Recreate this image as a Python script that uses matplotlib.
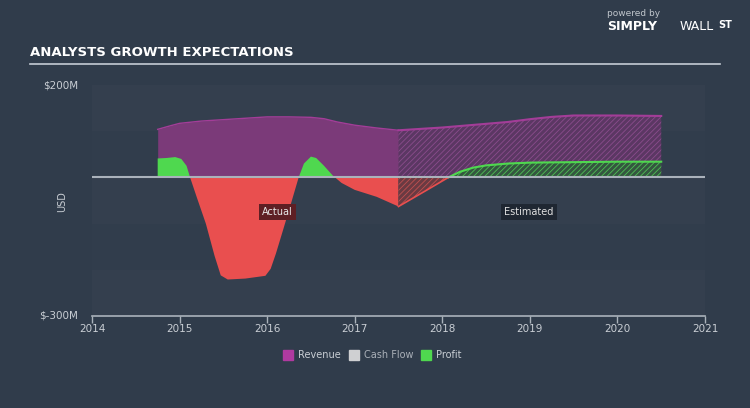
import numpy as np
import matplotlib.pyplot as plt

# values in $M, x in years
rev_act_x = [2014.75, 2014.9, 2015.0, 2015.25, 2015.5, 2015.75, 2016.0, 2016.25, 2016.5, 2016.65, 2016.8, 2017.0, 2017.25, 2017.5]
rev_act_y = [104, 112, 117, 122, 125, 128, 131, 131, 130, 127, 120, 113, 107, 102]
rev_est_x = [2017.5, 2017.75, 2018.0, 2018.25, 2018.5, 2018.75, 2019.0, 2019.25, 2019.5, 2020.0, 2020.5]
rev_est_y = [102, 105, 108, 112, 116, 120, 126, 131, 134, 134, 133]

prof_act_x = [2014.75, 2014.85, 2014.95, 2015.02, 2015.08, 2015.12, 2015.2, 2015.3, 2015.4, 2015.47, 2015.55,
              2015.75, 2015.98, 2016.04, 2016.1, 2016.18, 2016.27, 2016.36, 2016.42, 2016.5, 2016.56, 2016.65,
              2016.75, 2016.85, 2017.0, 2017.25, 2017.5]
prof_act_y = [41, 42, 44, 40, 25, 0, -45, -100, -170, -212, -221,
              -219, -213, -198, -165, -115, -58, 0, 30, 45, 42, 25,
              4, -12, -27, -42, -63]
prof_est_x = [2017.5, 2017.8, 2018.07, 2018.2, 2018.35, 2018.5, 2018.75, 2019.0, 2019.5, 2020.0, 2020.5]
prof_est_y = [-63, -30, 0, 12, 21, 26, 30, 32, 33, 34, 34]

x_ticks = [2014, 2015, 2016, 2017, 2018, 2019, 2020, 2021]

BG = '#303c4b'
PURPLE = '#7b3a79'
PURPLE_LINE = '#a33d98'
GREEN = '#4fd84f'
RED = '#e94f4f'
TXT = '#c9ced4'

plt.rcParams['hatch.linewidth'] = 0.6

fig = plt.figure(figsize=(7.5, 4.08), dpi=100)
fig.patch.set_facecolor(BG)
ax = fig.add_axes([92 / 750, 1 - 316 / 408, 613 / 750, 231 / 408])
ax.set_facecolor(BG)
ax.set_xlim(2014, 2021)
ax.set_ylim(-300, 200)

# subtle background bands
for i, lo in enumerate(range(-300, 200, 100)):
    ax.axhspan(lo, lo + 100, color='white', alpha=0.018 if i % 2 == 0 else 0.008, lw=0, zorder=0)

# revenue
ax.fill_between(rev_act_x, 0, rev_act_y, color=PURPLE, lw=0, zorder=1)
ax.plot(rev_act_x, rev_act_y, color=PURPLE_LINE, lw=1, zorder=2)
ax.fill_between(rev_est_x, 0, rev_est_y, facecolor='#5b3763', edgecolor='#8a4c8c', hatch='//////', lw=0, zorder=1)
ax.plot(rev_est_x, rev_est_y, color=PURPLE_LINE, lw=1.5, zorder=2)

# profit actual
pa_x = np.array(prof_act_x)
pa_y = np.array(prof_act_y)
ax.fill_between(pa_x, 0, pa_y, where=pa_y >= 0, interpolate=True, color=GREEN, lw=0, zorder=3)
ax.fill_between(pa_x, 0, pa_y, where=pa_y <= 0, interpolate=True, color=RED, lw=0, zorder=3)

# profit estimated
pe_x = np.array(prof_est_x)
pe_y = np.array(prof_est_y)
ax.fill_between(pe_x, 0, pe_y, where=pe_y >= 0, interpolate=True, facecolor='#34573f',
                edgecolor='#4fbf55', hatch='//////', lw=0, zorder=3)
ax.fill_between(pe_x, 0, pe_y, where=pe_y <= 0, interpolate=True, facecolor='#6a3a42',
                edgecolor='#c05050', hatch='//////', lw=0, zorder=3)
ax.plot(pe_x[pe_y >= 0], pe_y[pe_y >= 0], color=GREEN, lw=1.5, zorder=4)
ax.plot(pe_x[pe_y <= 0], pe_y[pe_y <= 0], color=RED, lw=1.2, zorder=4)

ax.axhline(0, color='#aab2bb', lw=1.5, zorder=5)

# labels inside chart
ax.text(2016.12, -75, 'Actual', color='#e8e8e8', fontsize=7, ha='center', va='center', zorder=6,
        bbox=dict(boxstyle='square,pad=0.3', fc='#5e1f24', ec='none'))
ax.text(2018.99, -75, 'Estimated', color='#e0e0e0', fontsize=7, ha='center', va='center', zorder=6,
        bbox=dict(boxstyle='square,pad=0.3', fc='#1f2732', ec='none'))

# axes styling
for s in ['top', 'right', 'left']:
    ax.spines[s].set_visible(False)
ax.spines['bottom'].set_color('#aab2bb')
ax.spines['bottom'].set_linewidth(1.2)
ax.set_xticks(x_ticks)
ax.set_xticklabels([str(t) for t in x_ticks])
ax.tick_params(axis='x', colors='#aab2bb', labelcolor=TXT, labelsize=7.5, length=5, width=1, pad=1)
ax.set_yticks([])

fig.text(78 / 750, 1 - 85 / 408, '$200M', color=TXT, fontsize=7.5, ha='right', va='center')
fig.text(78 / 750, 1 - 315 / 408, '$-300M', color=TXT, fontsize=7.5, ha='right', va='center')
fig.text(62 / 750, 1 - 202 / 408, 'USD', color=TXT, fontsize=7, ha='center', va='center', rotation=90)

# title and rule
fig.text(30 / 750, 1 - 53 / 408, 'ANALYSTS GROWTH EXPECTATIONS', color='white', fontsize=9.5,
         fontweight='bold', ha='left', va='center')
fig.add_artist(plt.Line2D([30 / 750, 720 / 750], [1 - 64 / 408] * 2, color='#c4ccd4', lw=1.2))

# branding
fig.text(607 / 750, 1 - 14 / 408, 'powered by', color='#c0c6cc', fontsize=6.5, ha='left', va='center')
fig.text(607 / 750, 1 - 27 / 408, 'SIMPLY', color='white', fontsize=9, fontweight='bold', ha='left', va='center')
fig.text(680 / 750, 1 - 27 / 408, 'WALL', color='white', fontsize=9, ha='left', va='center')
fig.text(718 / 750, 1 - 25 / 408, 'ST', color='white', fontsize=7, fontweight='bold', ha='left', va='center')

# legend
legend_items = [('Revenue', '#b03aa0', 283), ('Cash Flow', '#cfd0d2', 349), ('Profit', GREEN, 421)]
for name, col, px in legend_items:
    fig.patches.append(plt.Rectangle((px / 750, 1 - 360 / 408), 10 / 750, 10 / 408, color=col,
                                     transform=fig.transFigure, figure=fig))
    fig.text((px + 15) / 750, 1 - 355 / 408, name, color=TXT if name != 'Cash Flow' else '#aab0b8',
             fontsize=7, ha='left', va='center')

fig.savefig('out.png', dpi=100, facecolor=BG)
